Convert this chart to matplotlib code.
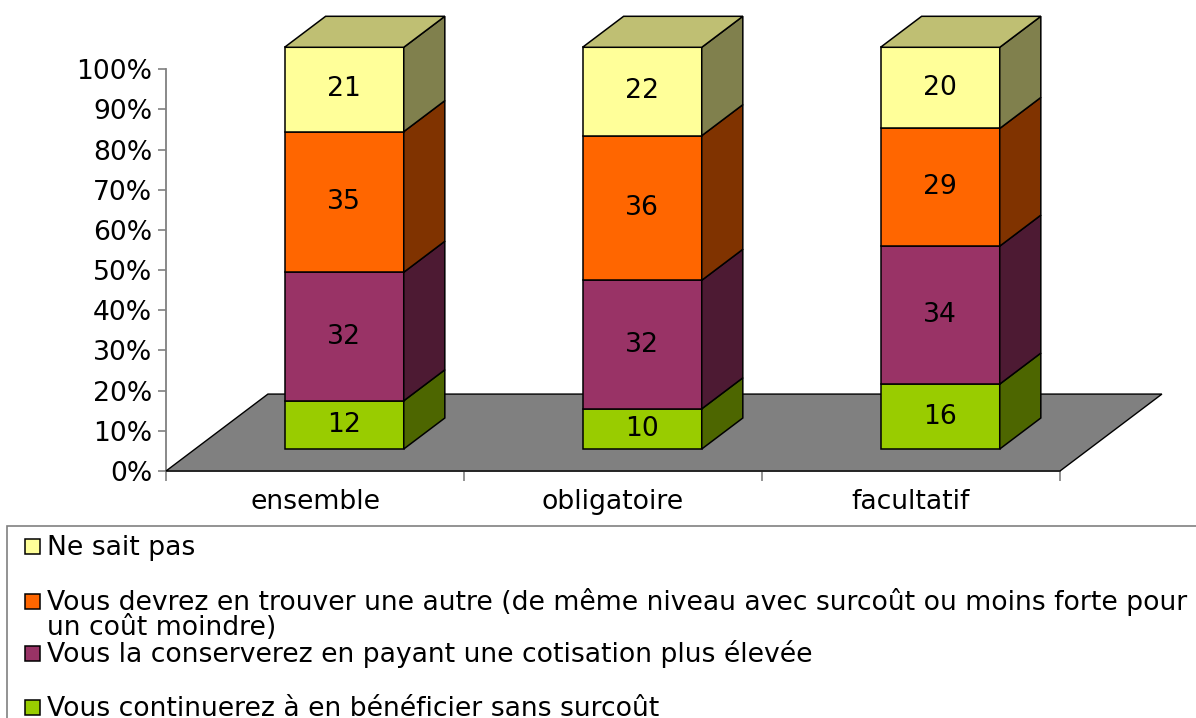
import numpy as np
import matplotlib
matplotlib.use('Agg')
import matplotlib.pyplot as plt
from matplotlib.patches import Polygon, Rectangle
from matplotlib.colors import to_rgb

# data (share of answers, in %)
categories = ['ensemble', 'obligatoire', 'facultatif']
sans_surcout = [12, 10, 16]
cotisation_plus = [32, 32, 34]
autre_contrat = [35, 36, 29]
ne_sait_pas = [21, 22, 20]

# bottom -> top of the stack
series = [sans_surcout, cotisation_plus, autre_contrat, ne_sait_pas]
front_colors = ['#99CC00', '#993366', '#FF6600', '#FFFF99']

# legend, top -> bottom
legend_labels = [
    'Ne sait pas',
    'Vous devrez en trouver une autre (de même niveau avec surcoût ou moins forte pour\nun coût moindre)',
    'Vous la conserverez en payant une cotisation plus élevée',
    'Vous continuerez à en bénéficier sans surcoût',
]
legend_colors = front_colors[::-1]

W, H = 1196, 718
FS = 19.2

# fake 3d: depth goes right and up
DX = 0.342   # category units per unit of depth
DY = 19.15   # percent per unit of depth
Z0, Z1 = 0.286, 0.689
BAR_W = 0.4


def proj(x, y, z):
    return (x + z * DX, y + z * DY)


def shade(c, f):
    r, g, b = to_rgb(c)
    return (r * f, g * f, b * f)


plt.rcParams['font.family'] = ['DejaVu Sans']
fig = plt.figure(figsize=(W / 100, H / 100), dpi=100)
ax = fig.add_axes([166 / W, (H - 471) / H, (1060 - 166) / W, (471 - 69.3) / H])
ax.set_xlim(0, 3)
ax.set_ylim(0, 100)

# floor
n = len(categories)
floor = Polygon([proj(0, 0, 0), proj(n, 0, 0), proj(n, 0, 1), proj(0, 0, 1)],
                closed=True, fc='#808080', ec='black', lw=1.0, zorder=3, clip_on=False)
ax.add_patch(floor)

vals = np.array(series, dtype=float)
pct = vals / vals.sum(axis=0) * 100
tops = np.cumsum(pct, axis=0)
bottoms = tops - pct

for i in range(n):
    x0 = i + 0.5 - BAR_W / 2
    x1 = i + 0.5 + BAR_W / 2
    for j in range(len(series)):
        y0, y1 = bottoms[j, i], tops[j, i]
        c = front_colors[j]
        front = [proj(x0, y0, Z0), proj(x1, y0, Z0), proj(x1, y1, Z0), proj(x0, y1, Z0)]
        side = [proj(x1, y0, Z0), proj(x1, y0, Z1), proj(x1, y1, Z1), proj(x1, y1, Z0)]
        ax.add_patch(Polygon(front, closed=True, fc=c, ec='black', lw=1.1, zorder=4, clip_on=False))
        ax.add_patch(Polygon(side, closed=True, fc=shade(c, 0.5), ec='black', lw=1.1, zorder=4, clip_on=False))
        if j == len(series) - 1:
            top = [proj(x0, y1, Z0), proj(x1, y1, Z0), proj(x1, y1, Z1), proj(x0, y1, Z1)]
            ax.add_patch(Polygon(top, closed=True, fc=shade(c, 0.75), ec='black', lw=1.1, zorder=4, clip_on=False))
        tx, ty = proj((x0 + x1) / 2, (y0 + y1) / 2, Z0)
        ax.text(tx, ty, str(series[j][i]), ha='center', va='center', fontsize=FS, zorder=5)

# axes look
for s in ['top', 'right']:
    ax.spines[s].set_visible(False)
for s in ['left', 'bottom']:
    ax.spines[s].set_color('#808080')
    ax.spines[s].set_linewidth(1.3)
ax.set_yticks(np.arange(0, 101, 10))
ax.set_yticklabels([f'{v}%' for v in range(0, 101, 10)], fontsize=FS)
ax.tick_params(axis='y', length=6, width=1.2, color='#808080', pad=4)
ax.set_xticks(np.arange(0, n + 1))
ax.set_xticklabels([])
ax.tick_params(axis='x', which='major', length=7, width=1.2, color='#808080')
ax.set_xticks(np.arange(n) + 0.5, minor=True)
ax.set_xticklabels(categories, minor=True, fontsize=FS)
ax.tick_params(axis='x', which='minor', length=0, pad=13)
ax.patch.set_visible(False)


# legend drawn by hand (box runs off the page like the original)
def fx(px):
    return px / W


def fy(py):
    return 1 - py / H


fig.patches.append(Rectangle((fx(7), fy(1000)), fx(1300), fy(526) - fy(1000),
                             transform=fig.transFigure, fc='none', ec='#808080', lw=1.2))
baselines = [555, 610, 662, 716]
for k, lab in enumerate(legend_labels):
    b = baselines[k]
    fig.patches.append(Rectangle((fx(25), fy(b - 1)), fx(15), fy(b - 16) - fy(b - 1),
                                 transform=fig.transFigure, fc=legend_colors[k], ec='black', lw=1.1))
    for m, line in enumerate(lab.split('\n')):
        fig.text(fx(47), fy(b + 25 * m), line, fontsize=FS, va='baseline', ha='left')

fig.savefig('out.png', dpi=100)
